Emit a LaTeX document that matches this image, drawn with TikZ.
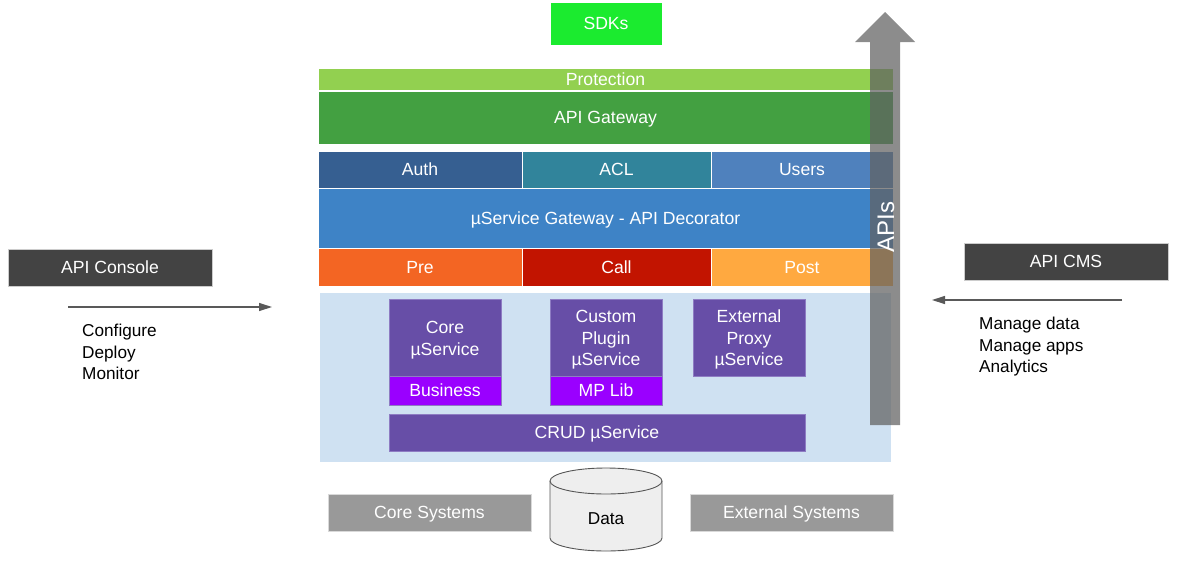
\documentclass[tikz,border=0pt]{standalone}
\usepackage{fontspec}
\setmainfont{Liberation Sans}
\usetikzlibrary{arrows.meta}
\definecolor{sdkgreen}{HTML}{1BEB2F}
\definecolor{protgreen}{HTML}{92D050}
\definecolor{gwgreen}{HTML}{43A041}
\definecolor{authblue}{HTML}{365F91}
\definecolor{aclteal}{HTML}{31849B}
\definecolor{usersblue}{HTML}{4F81BD}
\definecolor{msblue}{HTML}{3E83C6}
\definecolor{preorange}{HTML}{F36523}
\definecolor{callred}{HTML}{C21400}
\definecolor{postorange}{HTML}{FFA940}
\definecolor{bglight}{HTML}{CFE1F2}
\definecolor{purp}{HTML}{674EA7}
\definecolor{purpborder}{HTML}{8E7CC3}
\definecolor{violet}{HTML}{9A00FF}
\definecolor{sysgray}{HTML}{999999}
\definecolor{darkbox}{HTML}{434343}
\definecolor{arrowgray}{HTML}{626262}
\definecolor{thinarrow}{HTML}{595959}
\definecolor{datafill}{HTML}{EEEEEE}
\definecolor{datastroke}{HTML}{555555}
\tikzset{
  boxbase/.style={rectangle, inner sep=0pt, outer sep=0pt, text=white, align=center,
    font=\fontsize{17.6}{21.5}\selectfont},
  layer/.style={boxbase, fill=#1, draw=white, line width=0.6pt},
  purpbox/.style={boxbase, fill=#1, draw=purpborder, line width=0.8pt},
  sysbox/.style={boxbase, fill=sysgray, draw=white!85!black, line width=0.6pt},
  darkbx/.style={boxbase, fill=darkbox, draw=white!80!black, line width=0.6pt},
  oneline/.style={text height=12.6pt, text depth=0pt},
  sidetext/.style={inner sep=0pt, anchor=north west, align=left, text=black,
    font=\fontsize{17.2}{21.5}\selectfont},
  thinarr/.style={draw=thinarrow, line width=1.3pt, -{Triangle[length=13pt,width=8pt]}},
}
\newcommand{\bx}[8]{%
  \node[#6, #7] (#1) at ({(#2+#4)/2},{(#3+#5)/2})
    [minimum width={#4-#2}, minimum height={#5-#3}] {#8};}
\newcommand{\mlines}[1]{\raisebox{-2.5pt}[\height][\depth]{\begin{tabular}{@{}c@{}}#1\end{tabular}}}
\begin{document}
\begin{tikzpicture}[x=1pt,y=-1pt]
\useasboundingbox (0,0) rectangle (1186,562);
% background region
\fill[bglight] (320,293) rectangle (891,462);
% top
\bx{sdk}{550}{2}{662}{45}{layer=sdkgreen}{oneline}{SDKs}
\bx{prot}{318}{68}{893}{90}{layer=protgreen}{oneline}{Protection}
\bx{gw}{318}{91}{893}{144}{layer=gwgreen}{oneline}{API Gateway}
\bx{auth}{318}{151}{522}{188}{layer=authblue}{oneline}{Auth}
\bx{acl}{522}{151}{711}{188}{layer=aclteal}{oneline}{ACL}
\bx{users}{711}{151}{893}{188}{layer=usersblue}{oneline}{Users}
\bx{msgw}{318}{188}{893}{248}{layer=msblue}{oneline}{µService Gateway - API Decorator}
\bx{pre}{318}{248}{522}{286}{layer=preorange}{oneline}{Pre}
\bx{call}{522}{248}{711}{286}{layer=callred}{oneline}{Call}
\bx{post}{711}{248}{893}{286}{layer=postorange}{oneline}{Post}
% services
\bx{core}{389}{299}{501}{376}{purpbox=purp}{}{\mlines{Core\\µService}}
\bx{business}{389}{376}{501}{405}{purpbox=violet}{oneline}{Business}
\bx{custom}{550}{299}{662}{376}{purpbox=purp}{}{\mlines{Custom\\Plugin\\µService}}
\bx{mplib}{550}{376}{662}{405}{purpbox=violet}{oneline}{MP Lib}
\bx{ext}{693}{299}{805}{376}{purpbox=purp}{}{\mlines{External\\Proxy\\µService}}
\bx{crud}{389}{414}{805}{451}{purpbox=purp}{oneline}{CRUD µService}
% systems
\bx{coresys}{328}{494}{531}{531}{sysbox}{oneline}{Core Systems}
\bx{extsys}{690}{494}{893}{531}{sysbox}{oneline}{External Systems}
% data cylinder
\filldraw[fill=datafill, draw=datastroke, line width=0.9pt]
  (550,481) -- (550,538) arc[start angle=180, end angle=0, x radius=56, y radius=13]
  -- (662,481) arc[start angle=0, end angle=-180, x radius=56, y radius=13] -- cycle;
\draw[datastroke, line width=0.9pt] (550,481) arc[start angle=180, end angle=0, x radius=56, y radius=13];
\node[inner sep=0pt, text=black, font=\fontsize{17.2}{21.5}\selectfont, oneline] (data) at (606,518) {Data};
% side boxes
\bx{console}{8}{249}{212}{286}{darkbx}{oneline}{API Console}
\bx{cms}{964}{243}{1168}{280}{darkbx}{oneline}{API CMS}
\coordinate (la) at (68,307);
\coordinate (lb) at (272,307);
\coordinate (ra) at (1122,300);
\coordinate (rb) at (932,300);
\draw[thinarr] (la) -- (lb);
\draw[thinarr] (ra) -- (rb);
\node[sidetext] (lefttext) at (82,324) {Configure\\Deploy\\Monitor};
\node[sidetext] (righttext) at (979,317) {Manage data\\Manage apps\\Analytics};
% big APIs arrow
\fill[arrowgray, fill opacity=0.73] (870,425) -- (870,42) -- (855,42) -- (885,12) -- (915,42) -- (900,42) -- (900,425) -- cycle;
\node[rotate=90, inner sep=0pt, text=white, font=\fontsize{24}{28}\selectfont] (apis) at (886,227) {APIs};
\end{tikzpicture}
\end{document}
